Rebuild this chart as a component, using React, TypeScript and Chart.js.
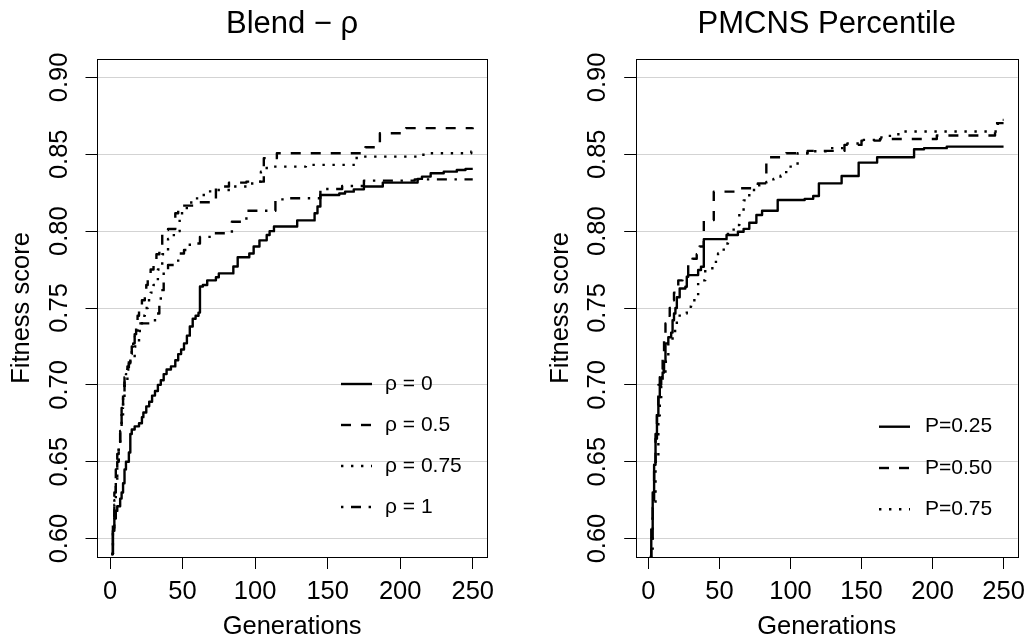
import React, { useEffect, useRef } from 'react';
import { Chart, registerables } from 'chart.js';

Chart.register(...registerables);

const FONT = "'Liberation Sans', Arial, Helvetica, sans-serif";

// ---- axes ----
const xTicks = [0, 50, 100, 150, 200, 250];
const yTicks = [0.6, 0.65, 0.7, 0.75, 0.8, 0.85, 0.9];
const xMin = -8.96;
const xMax = 259.96;
const yMin = 0.588;
const yMax = 0.912;

// ---- Blend - rho panel ----
const rho0Gen = [1, 2, 3, 4, 5, 7, 8, 9, 10, 11, 13, 14, 15, 17, 20, 22, 23, 25, 27, 29, 31, 33, 35, 37, 39, 42, 45, 47, 49, 51, 53, 55, 57, 59, 61, 62, 64, 67, 73, 75, 85, 88, 96, 99, 103, 108, 110, 113, 129, 141, 143, 145, 158, 162, 168, 175, 188, 212, 215, 221, 230, 239, 245, 250];
const rho0Fit = [0.590, 0.605, 0.613, 0.618, 0.621, 0.626, 0.630, 0.636, 0.645, 0.650, 0.656, 0.668, 0.671, 0.673, 0.675, 0.679, 0.682, 0.686, 0.689, 0.693, 0.696, 0.700, 0.703, 0.707, 0.710, 0.712, 0.716, 0.720, 0.723, 0.727, 0.732, 0.738, 0.743, 0.745, 0.747, 0.764, 0.765, 0.768, 0.770, 0.7725, 0.777, 0.783, 0.7855, 0.790, 0.794, 0.7975, 0.800, 0.803, 0.807, 0.8116, 0.816, 0.8235, 0.8245, 0.8257, 0.8272, 0.829, 0.8316, 0.834, 0.8355, 0.8377, 0.8387, 0.8398, 0.8405, 0.8405];

const rho05Gen = [1, 2, 3, 4, 5, 6, 7, 8, 9, 10, 11, 12, 13, 14, 15, 16, 17, 18, 19, 20, 21, 22, 24, 25, 26, 28, 30, 32, 34, 36, 40, 45, 47, 58, 73, 82, 94, 106, 115, 176, 186, 204, 250];
const rho05Fit = [0.590, 0.610, 0.630, 0.645, 0.655, 0.662, 0.672, 0.685, 0.695, 0.705, 0.708, 0.712, 0.717, 0.720, 0.725, 0.728, 0.733, 0.740, 0.745, 0.748, 0.752, 0.755, 0.757, 0.765, 0.770, 0.775, 0.781, 0.785, 0.790, 0.8007, 0.8014, 0.8116, 0.8166, 0.8188, 0.829, 0.8316, 0.8322, 0.8475, 0.8507, 0.8546, 0.8637, 0.867, 0.8674];

const rho075Gen = [1, 2, 3, 4, 5, 6, 7, 8, 9, 10, 12, 14, 17, 20, 22, 24, 26, 28, 30, 33, 36, 40, 44, 48, 52, 56, 60, 69, 83, 98, 104, 108, 135, 170, 216, 249, 250];
const rho075Fit = [0.590, 0.605, 0.622, 0.638, 0.650, 0.660, 0.670, 0.680, 0.690, 0.700, 0.710, 0.718, 0.725, 0.735, 0.745, 0.750, 0.755, 0.760, 0.765, 0.775, 0.785, 0.795, 0.800, 0.8116, 0.815, 0.820, 0.8235, 0.8268, 0.829, 0.8322, 0.8387, 0.842, 0.8431, 0.8485, 0.8507, 0.8518, 0.8518];

const rho1Gen = [1, 2, 3, 4, 5, 6, 7, 8, 9, 10, 11, 12, 13, 14, 15, 16, 17, 18, 19, 20, 31, 34, 35, 37, 40, 44, 47, 51, 55, 62, 70, 84, 94, 114, 122, 145, 160, 175, 210, 250];
const rho1Fit = [0.590, 0.607, 0.625, 0.640, 0.650, 0.660, 0.672, 0.685, 0.695, 0.703, 0.707, 0.710, 0.714, 0.718, 0.722, 0.727, 0.731, 0.734, 0.737, 0.740, 0.7464, 0.755, 0.7616, 0.7746, 0.778, 0.780, 0.7855, 0.7877, 0.792, 0.7963, 0.7986, 0.8061, 0.8133, 0.8207, 0.8214, 0.8274, 0.8294, 0.8329, 0.8337, 0.8337];

// ---- PMCNS Percentile panel ----
const p25Gen = [1, 2, 3, 4, 5, 6, 7, 8, 9, 10, 11, 12, 14, 16, 17, 18, 19, 20, 22, 26, 27, 28, 35, 37, 39, 55, 63, 67, 71, 76, 80, 91, 110, 116, 120, 136, 148, 161, 187, 194, 210, 250];
const p25Fit = [0.588, 0.600, 0.625, 0.648, 0.665, 0.680, 0.692, 0.700, 0.705, 0.708, 0.715, 0.727, 0.731, 0.734, 0.742, 0.7464, 0.750, 0.757, 0.7627, 0.7638, 0.7703, 0.7714, 0.7747, 0.7768, 0.7948, 0.7975, 0.7996, 0.8015, 0.8055, 0.8105, 0.8133, 0.8203, 0.821, 0.8229, 0.8311, 0.8359, 0.8446, 0.8481, 0.8533, 0.854, 0.855, 0.855];

const p50Gen = [1, 2, 3, 4, 5, 6, 7, 8, 9, 10, 11, 12, 13, 15, 16, 18, 21, 24, 28, 31, 34, 36, 39, 46, 65, 77, 83, 97, 112, 138, 150, 163, 203, 244, 250];
const p50Fit = [0.588, 0.610, 0.630, 0.650, 0.668, 0.685, 0.700, 0.705, 0.710, 0.720, 0.730, 0.740, 0.745, 0.750, 0.755, 0.760, 0.768, 0.772, 0.778, 0.782, 0.785, 0.790, 0.8072, 0.8257, 0.8279, 0.8311, 0.8481, 0.8507, 0.8522, 0.8561, 0.8589, 0.860, 0.8622, 0.8703, 0.8703];

const p75Gen = [1, 3, 5, 7, 8, 9, 10, 12, 14, 17, 20, 22, 27, 30, 35, 40, 45, 49, 53, 56, 60, 64, 67, 71, 78, 83, 88, 93, 97, 105, 113, 125, 140, 150, 160, 170, 180, 246, 250];
const p75Fit = [0.588, 0.620, 0.650, 0.680, 0.690, 0.700, 0.705, 0.715, 0.7268, 0.735, 0.742, 0.7464, 0.7508, 0.755, 0.768, 0.775, 0.780, 0.7855, 0.792, 0.800, 0.804, 0.812, 0.820, 0.8268, 0.830, 0.832, 0.834, 0.836, 0.842, 0.8507, 0.852, 0.854, 0.857, 0.8594, 0.861, 0.863, 0.8648, 0.8724, 0.8724];

// ---- line styles (R lty 1..4) ----
const LW = 2.4;
const SOLID: number[] = [];
const DASHED = [10, 10];
const DOTTED = [2.4, 7.6];
const DOTDASH = [2.4, 7.6, 10, 7.6];

type Series = { label: string; gen: number[]; fit: number[]; dash: number[] };

const blendSeries: Series[] = [
  { label: 'ρ = 0', gen: rho0Gen, fit: rho0Fit, dash: SOLID },
  { label: 'ρ = 0.5', gen: rho05Gen, fit: rho05Fit, dash: DASHED },
  { label: 'ρ = 0.75', gen: rho075Gen, fit: rho075Fit, dash: DOTTED },
  { label: 'ρ = 1', gen: rho1Gen, fit: rho1Fit, dash: DOTDASH },
];

const pmcnsSeries: Series[] = [
  { label: 'P=0.25', gen: p25Gen, fit: p25Fit, dash: SOLID },
  { label: 'P=0.50', gen: p50Gen, fit: p50Fit, dash: DASHED },
  { label: 'P=0.75', gen: p75Gen, fit: p75Fit, dash: DOTTED },
];

type PanelLayout = {
  title: string;
  series: Series[];
  canvasLeft: number;
  canvasWidth: number;
  yAxisWidth: number;
  rightPad: number;
  yTickPad: number;
  yTitlePad: number;
  legend: { x0: number; x1: number; textX: number; y0: number; dy: number; size: number };
};

const boxPlugin = {
  id: 'plotBox',
  afterDraw(chart: any) {
    const { ctx, chartArea } = chart;
    ctx.save();
    ctx.strokeStyle = '#000';
    ctx.lineWidth = 1;
    ctx.setLineDash([]);
    const l = Math.round(chartArea.left) + 0.5;
    const t = Math.round(chartArea.top) + 0.5;
    const r = Math.round(chartArea.right) + 0.5;
    const b = Math.round(chartArea.bottom) + 0.5;
    ctx.strokeRect(l, t, r - l, b - t);
    ctx.restore();
  },
};

const legendPlugin = {
  id: 'rLegend',
  afterDraw(chart: any, _args: any, opts: any) {
    const { ctx } = chart;
    chart.data.datasets.forEach((ds: any, i: number) => {
      const y = opts.y0 + i * opts.dy;
      ctx.save();
      ctx.strokeStyle = '#000';
      ctx.lineWidth = ds.borderWidth;
      ctx.lineCap = 'butt';
      ctx.setLineDash(ds.borderDash || []);
      ctx.beginPath();
      ctx.moveTo(opts.x0, y);
      ctx.lineTo(opts.x1, y);
      ctx.stroke();
      ctx.setLineDash([]);
      ctx.fillStyle = '#000';
      ctx.font = `${opts.size}px ${FONT}`;
      ctx.textBaseline = 'middle';
      ctx.textAlign = 'left';
      ctx.fillText(ds.label, opts.textX, y);
      ctx.restore();
    });
  },
};

function buildConfig(p: PanelLayout): any {
  const datasets = p.series.map((s) => ({
    label: s.label,
    data: s.gen.map((g, i) => ({ x: g, y: s.fit[i] })),
    borderColor: '#000',
    backgroundColor: '#000',
    borderWidth: LW,
    borderDash: s.dash,
    borderCapStyle: 'butt',
    borderJoinStyle: 'round',
    pointRadius: 0,
    stepped: 'before',
    tension: 0,
    fill: false,
  }));
  const tickFont = { family: FONT, size: 25.5 };
  return {
    type: 'line',
    data: { datasets },
    options: {
      responsive: false,
      animation: false,
      devicePixelRatio: 1,
      events: [],
      layout: { padding: { left: 0, right: p.rightPad, top: 0, bottom: 0 } },
      plugins: {
        legend: { display: false },
        tooltip: { enabled: false },
        title: {
          display: true,
          text: p.title,
          fullSize: false,
          color: '#000',
          font: { family: FONT, size: 31, weight: 'normal', lineHeight: 1.2 },
          padding: { top: 5.6, bottom: 16.2 },
        },
        rLegend: p.legend,
      },
      scales: {
        x: {
          type: 'linear',
          min: xMin,
          max: xMax,
          afterBuildTicks: (s: any) => {
            s.ticks = xTicks.map((v) => ({ value: v }));
          },
          afterFit: (s: any) => {
            s.height = 80;
          },
          border: { display: false },
          grid: { drawOnChartArea: false, drawTicks: true, tickLength: 12, tickColor: '#000', tickWidth: 1 },
          ticks: { color: '#000', font: tickFont, padding: 7.6, maxRotation: 0, minRotation: 0, callback: (v: any) => String(v) },
          title: {
            display: true,
            text: 'Generations',
            color: '#000',
            font: { family: FONT, size: 25.5, lineHeight: 0.8 },
            padding: { top: 0, bottom: 0 },
          },
        },
        y: {
          type: 'linear',
          min: yMin,
          max: yMax,
          afterBuildTicks: (s: any) => {
            s.ticks = yTicks.map((v) => ({ value: v }));
          },
          afterFit: (s: any) => {
            s.width = p.yAxisWidth;
          },
          border: { display: false },
          grid: { color: '#d3d3d3', lineWidth: 1, drawTicks: true, tickLength: 11.5, tickColor: '#000', tickWidth: 1 },
          ticks: {
            color: '#000',
            font: tickFont,
            padding: p.yTickPad,
            minRotation: 90,
            maxRotation: 90,
            crossAlign: 'center',
            callback: (v: any) => Number(v).toFixed(2),
          },
          title: {
            display: true,
            text: 'Fitness score',
            color: '#000',
            font: { family: FONT, size: 25.5, lineHeight: 0.8 },
            padding: { top: p.yTitlePad, bottom: 0 },
          },
        },
      },
    },
    plugins: [boxPlugin, legendPlugin],
  };
}

const leftPanel: PanelLayout = {
  title: 'Blend − ρ',
  series: blendSeries,
  canvasLeft: 0,
  canvasWidth: 516,
  yAxisWidth: 97,
  rightPad: 28.8,
  yTickPad: 1,
  yTitlePad: 11.8,
  legend: { x0: 341, x1: 372, textX: 385, y0: 384, dy: 41, size: 21 },
};

const rightPanel: PanelLayout = {
  title: 'PMCNS Percentile',
  series: pmcnsSeries,
  canvasLeft: 516,
  canvasWidth: 517,
  yAxisWidth: 119.7,
  rightPad: 6.8,
  yTickPad: 1,
  yTitlePad: 34.5,
  legend: { x0: 363, x1: 394, textX: 409, y0: 426.7, dy: 41.3, size: 21 },
};

function Panel({ layout }: { layout: PanelLayout }) {
  const ref = useRef<HTMLCanvasElement | null>(null);
  useEffect(() => {
    if (!ref.current) return;
    const chart = new Chart(ref.current, buildConfig(layout));
    return () => chart.destroy();
  }, [layout]);
  return (
    <canvas
      ref={ref}
      width={layout.canvasWidth}
      height={637}
      style={{ position: 'absolute', left: layout.canvasLeft, top: 0, width: layout.canvasWidth, height: 637 }}
    />
  );
}

export default function App() {
  return (
    <div style={{ position: 'absolute', left: 0, top: 0, width: 1033, height: 637, background: '#fff', overflow: 'hidden' }}>
      <Panel layout={leftPanel} />
      <Panel layout={rightPanel} />
    </div>
  );
}
